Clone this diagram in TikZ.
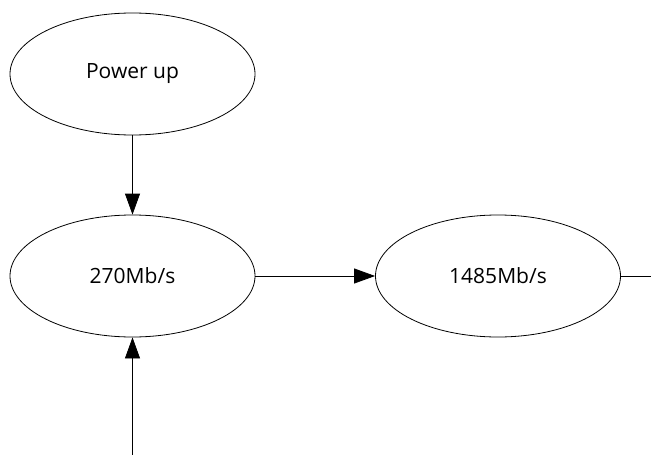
\documentclass[tikz,border=0pt]{standalone}
\usepackage{fontspec}
\setmainfont{Open Sans}
\usetikzlibrary{shapes.geometric,arrows.meta}
\tikzset{
  state/.style={draw,ellipse,line width=0.8pt,inner sep=0pt,
    minimum width=245pt,minimum height=122pt,font=\fontsize{21}{24}\selectfont},
  flow/.style={line width=0.8pt,-{Triangle[length=21pt,width=15pt]}},
  plain/.style={line width=0.8pt}
}
\begin{document}
\begin{tikzpicture}[x=1pt,y=-1pt]
\useasboundingbox (0,0) rectangle (651,455);
%\draw[step=50,gray,very thin] (0,0) grid (651,455); %background grid
\node[state] (powerup) at (132.5,74)  {Power up};
\node[state] (sd)      at (132.5,276) {270Mb/s};
\node[state] (hd)      at (498,276)   {1485Mb/s};
\coordinate (out) at (651,276);
\coordinate (in)  at (132.5,455);
\draw[flow] (powerup) -- (sd);
\draw[flow] (sd) -- (hd);
\draw[plain] (hd) -- (out);
\draw[flow] (in) -- (sd);
\end{tikzpicture}
\end{document}
